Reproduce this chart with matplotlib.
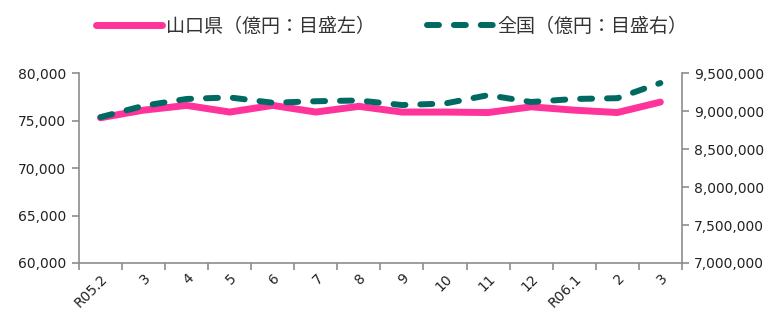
import numpy as np
import matplotlib
matplotlib.use("Agg")
import matplotlib.pyplot as plt
from matplotlib.ticker import FuncFormatter, FixedLocator

plt.rcParams['font.family'] = ['DejaVu Sans', 'Noto Sans CJK JP']

months = ["R05.2", "3", "4", "5", "6", "7", "8", "9", "10", "11", "12", "R06.1", "2", "3"]
yamaguchi = [75300, 76100, 76600, 75900, 76600, 75900, 76500, 75900, 75900, 75850, 76450, 76100, 75850, 76950]
zenkoku = [8920000, 9070000, 9160000, 9180000, 9110000, 9130000, 9140000, 9080000, 9100000, 9210000, 9120000, 9160000, 9170000, 9370000]

pink = "#FF3399"
teal = "#006A62"
gray = "#8C8C8C"
txt = "#222222"

fig = plt.figure(figsize=(7.69, 3.18), dpi=100)
ax = fig.add_axes([0.1027, 0.173, 0.784, 0.597])
ax2 = ax.twinx()

x = np.arange(len(months))
l1, = ax.plot(x, yamaguchi, color=pink, lw=5.0, solid_capstyle="round", solid_joinstyle="miter")
l2, = ax2.plot(x, zenkoku, color=teal, lw=4.3, dashes=(2.0, 2.5), dash_capstyle="round")

ax.set_xlim(-0.5, len(months) - 0.5)
ax.set_ylim(60000, 80000)
ax.set_yticks(np.arange(60000, 80001, 5000))
ax.yaxis.set_major_formatter(FuncFormatter(lambda v, p: f"{int(v):,}"))
ax2.set_ylim(7000000, 9500000)
ax2.set_yticks(np.arange(7000000, 9500001, 500000))
ax2.yaxis.set_major_formatter(FuncFormatter(lambda v, p: f"{int(v):,}"))

# category boundaries get tick marks, labels sit at the centers
ax.xaxis.set_major_locator(FixedLocator(np.arange(-0.5, len(months), 1.0)))
ax.xaxis.set_major_formatter(FuncFormatter(lambda v, p: ""))
ax.set_xticks(x, minor=True)
ax.set_xticklabels(months, minor=True, rotation=45, ha="right", rotation_mode="anchor")
ax.tick_params(axis="x", which="minor", length=0, pad=6, labelsize=10, labelcolor=txt)
ax.tick_params(axis="x", which="major", length=5, color=gray, width=1.2)

for a in (ax, ax2):
    for s in a.spines.values():
        s.set_visible(False)
    a.tick_params(axis="y", length=5, color=gray, width=1.2, labelsize=10, labelcolor=txt, pad=4)
ax.spines["left"].set_visible(True)
ax.spines["bottom"].set_visible(True)
ax2.spines["right"].set_visible(True)
for s in (ax.spines["left"], ax.spines["bottom"], ax2.spines["right"]):
    s.set_color(gray)
    s.set_linewidth(1.2)

leg = fig.legend([l1, l2], ["山口県（億円：目盛左）", "全国（億円：目盛右）"],
                 loc="center", bbox_to_anchor=(0.509, 0.918), ncol=2, frameon=False,
                 handlelength=3.5, handletextpad=0.2, columnspacing=2.7,
                 prop={"family": ["Noto Sans CJK JP"], "size": 13.7})
for t in leg.get_texts():
    t.set_color("#333333")

fig.savefig("out.png", dpi=100)
